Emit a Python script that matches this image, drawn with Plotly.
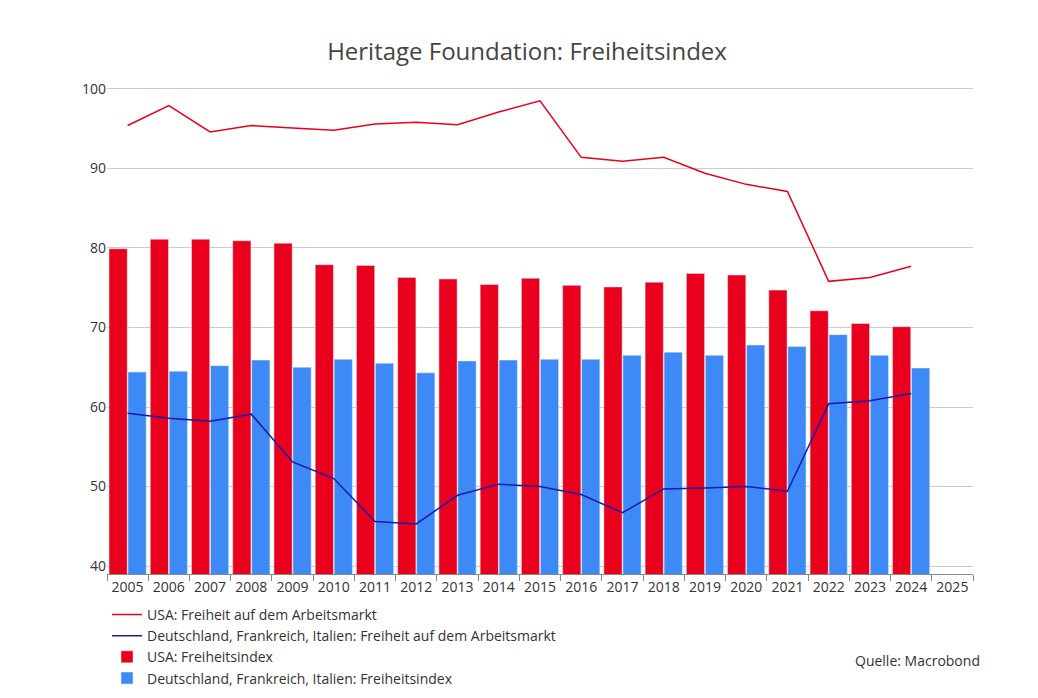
import plotly.graph_objects as go

years = [str(y) for y in range(2005, 2026)]
usa_index = [79.9, 81.1, 81.1, 80.9, 80.6, 77.9, 77.8, 76.3, 76.1, 75.4, 76.2,
             75.3, 75.1, 75.7, 76.8, 76.6, 74.7, 72.1, 70.5, 70.1, None]
dfi_index = [64.4, 64.5, 65.2, 65.9, 65.0, 66.0, 65.5, 64.3, 65.8, 65.9, 66.0,
             66.0, 66.5, 66.9, 66.5, 67.8, 67.6, 69.1, 66.5, 64.9, None]
usa_labor = [95.4, 97.9, 94.6, 95.4, 95.1, 94.8, 95.6, 95.8, 95.5, 97.1, 98.5,
             91.4, 90.9, 91.4, 89.4, 88.0, 87.1, 75.8, 76.3, 77.7, None]
dfi_labor = [59.2, 58.6, 58.2, 59.1, 53.1, 51.0, 45.6, 45.3, 48.9, 50.3, 50.0,
             49.0, 46.7, 49.7, 49.8, 50.0, 49.4, 60.4, 60.8, 61.7, None]

red = "#e8001c"
blue = "#3d8af7"
navy = "#1a1aa8"

fig = go.Figure()
fig.add_trace(go.Scatter(x=years, y=usa_labor, mode="lines", line=dict(color=red, width=1.5),
                         name="USA: Freiheit auf dem Arbeitsmarkt"))
fig.add_trace(go.Scatter(x=years, y=dfi_labor, mode="lines", line=dict(color=navy, width=1.5),
                         name="Deutschland, Frankreich, Italien: Freiheit auf dem Arbeitsmarkt"))
fig.add_trace(go.Bar(x=years, y=usa_index, marker_color=red, name="USA: Freiheitsindex"))
fig.add_trace(go.Bar(x=years, y=dfi_index, marker_color=blue,
                     name="Deutschland, Frankreich, Italien: Freiheitsindex"))

fig.update_layout(
    width=1038, height=698,
    font=dict(family="Open Sans", size=14, color="#333"),
    title=dict(text="Heritage Foundation: Freiheitsindex", x=0.5, y=0.95,
               font=dict(size=24, color="#444")),
    plot_bgcolor="white", paper_bgcolor="white",
    barmode="group", bargap=0.08, bargroupgap=0.04,
    margin=dict(l=99, r=73, t=69, b=125),
    legend=dict(orientation="h", x=0.0, y=-0.05, xanchor="left", yanchor="top",
                font=dict(size=14), itemwidth=30, tracegroupgap=0),
    annotations=[dict(text="Quelle: Macrobond", xref="paper", yref="paper",
                      x=1.01, y=-0.15, xanchor="right", yanchor="top",
                      showarrow=False, font=dict(size=14))],
)
fig.update_xaxes(type="category", tickson="boundaries", ticks="outside", ticklen=6,
                 tickcolor="#888", showline=True, linecolor="#888", showgrid=False)
fig.update_yaxes(range=[39, 101.5], dtick=10, showgrid=True, gridcolor="#ccc",
                 zeroline=False, ticks="", tickfont=dict(size=14))

fig.write_html("out.html")
